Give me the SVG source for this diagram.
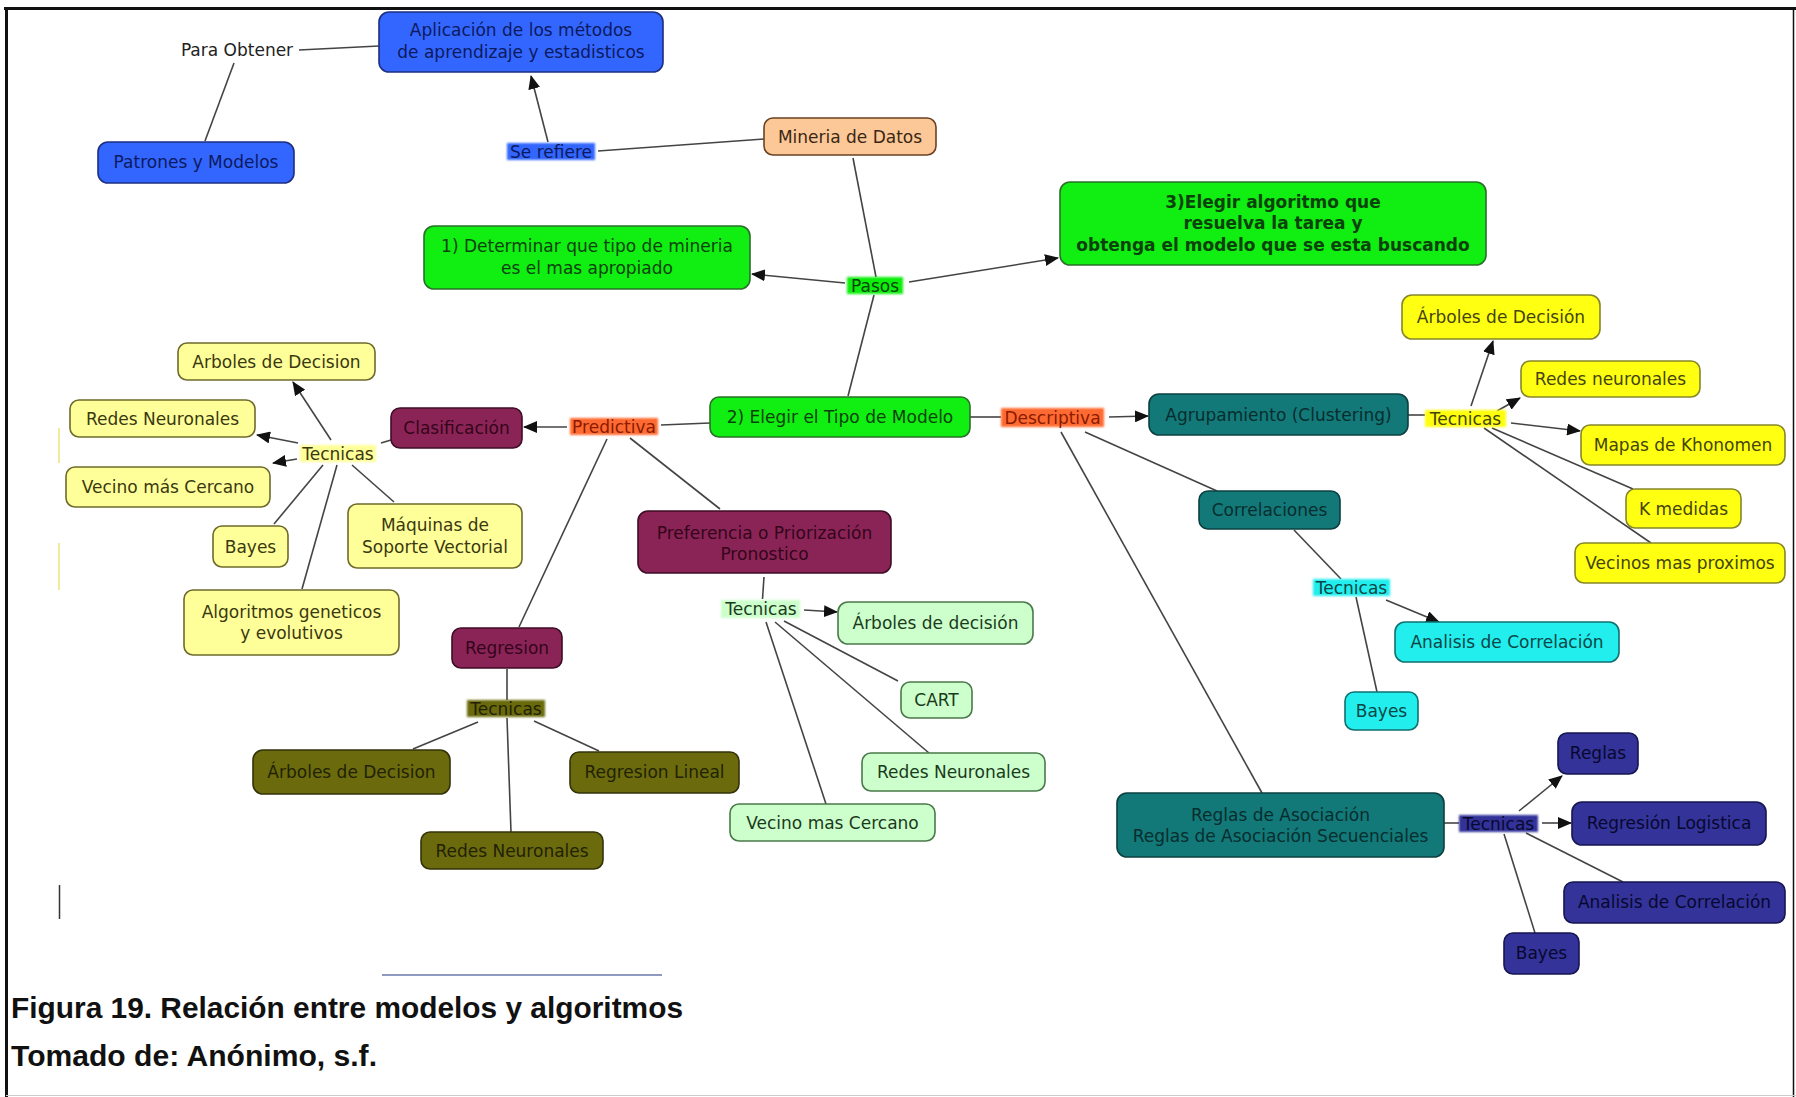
<svg xmlns="http://www.w3.org/2000/svg" width="1796" height="1097" viewBox="0 0 1796 1097">
  <defs>
    <style>
      text { font-family: "DejaVu Sans", Verdana, sans-serif; font-size: 17px; text-anchor: middle; }
      .n rect { stroke-width: 1.6; }
      .blue rect { fill: #3366ff; stroke: #1c2f80; } .blue text { fill: #0c1a60; }
      .peach rect { fill: #fcc898; stroke: #6a4222; } .peach text { fill: #3a2614; }
      .green rect { fill: #11ee11; stroke: #2a702a; } .green text { fill: #0b420b; }
      .paley rect { fill: #ffff99; stroke: #6e6a2c; } .paley text { fill: #3a3810; }
      .maroon rect { fill: #8b2456; stroke: #3e0d26; } .maroon text { fill: #33041b; }
      .mint rect { fill: #ccffcc; stroke: #4a7a4a; } .mint text { fill: #1b3a1b; }
      .olive rect { fill: #6b6b0e; stroke: #33330a; } .olive text { fill: #222202; }
      .teal rect { fill: #137878; stroke: #0c4040; } .teal text { fill: #062e2e; }
      .yellow rect { fill: #ffff11; stroke: #86862a; } .yellow text { fill: #44440e; }
      .cyan rect { fill: #22eeee; stroke: #117070; } .cyan text { fill: #0b4646; }
      .navy rect { fill: #333399; stroke: #161650; } .navy text { fill: #08082e; }
      .lbl rect { filter: url(#soft); stroke: none; }
      .plain text { fill: #222; }
      #connectors line { stroke: #444; stroke-width: 1.6; }
      #connectors line.arr { marker-end: url(#head); }
      .cap { font-family: "Liberation Sans", Arial, sans-serif; font-weight: bold; font-size: 29px; text-anchor: start; fill: #111; }
    </style>
    <filter id="soft" x="-20%" y="-40%" width="140%" height="180%">
      <feGaussianBlur stdDeviation="1.2"/>
    </filter>
    <marker id="head" markerUnits="userSpaceOnUse" markerWidth="14" markerHeight="12" refX="13" refY="6" orient="auto">
      <path d="M0,0 L14,6 L0,12 z" fill="#111"/>
    </marker>
  </defs>

  <rect width="1796" height="1097" fill="#fff"/>

  <!-- frame -->
  <g id="frame">
    <line x1="4" y1="8.5" x2="1796" y2="8.5" stroke="#111" stroke-width="3"/>
    <line x1="6.5" y1="7" x2="6.5" y2="1097" stroke="#111" stroke-width="3"/>
    <line x1="1793.5" y1="7" x2="1793.5" y2="1097" stroke="#111" stroke-width="1.5"/>
    <line x1="6" y1="1095.5" x2="1796" y2="1095.5" stroke="#ccc" stroke-width="1.2"/>
    <line x1="59" y1="428" x2="59" y2="463" stroke="#eee070" stroke-width="1.4"/>
    <line x1="59" y1="543" x2="59" y2="590" stroke="#eee070" stroke-width="1.4"/>
    <line x1="59.5" y1="885" x2="59.5" y2="919" stroke="#333" stroke-width="1.5"/>
    <line x1="382" y1="975" x2="662" y2="975" stroke="#6a7aa8" stroke-width="1.5"/>
  </g>

  <!-- connectors -->
  <g id="connectors">
    <line x1="299" y1="50" x2="379" y2="46"/>
    <line x1="234" y1="63" x2="205" y2="141"/>
    <line class="arr" x1="548" y1="142" x2="531" y2="76"/>
    <line x1="764" y1="139" x2="598" y2="151"/>
    <line x1="853" y1="158" x2="876" y2="277"/>
    <line class="arr" x1="845" y1="283" x2="752" y2="274"/>
    <line class="arr" x1="909" y1="282" x2="1058" y2="258"/>
    <line x1="874" y1="295" x2="848" y2="396"/>
    <line x1="710" y1="423" x2="661" y2="425"/>
    <line class="arr" x1="567" y1="427" x2="524" y2="427"/>
    <line x1="381" y1="443" x2="391" y2="440"/>
    <line class="arr" x1="331" y1="440" x2="293" y2="382"/>
    <line class="arr" x1="298" y1="443" x2="257" y2="435"/>
    <line class="arr" x1="297" y1="459" x2="273" y2="463"/>
    <line x1="323" y1="465" x2="274" y2="524"/>
    <line x1="337" y1="465" x2="302" y2="589"/>
    <line x1="352" y1="465" x2="394" y2="502"/>
    <line x1="607" y1="439" x2="519" y2="627"/>
    <line x1="630" y1="438" x2="720" y2="509"/>
    <line x1="507" y1="669" x2="507" y2="700"/>
    <line x1="478" y1="722" x2="413" y2="749"/>
    <line x1="534" y1="721" x2="599" y2="751"/>
    <line x1="507" y1="718" x2="511" y2="832"/>
    <line x1="764" y1="577" x2="762.5" y2="599"/>
    <line class="arr" x1="804" y1="610" x2="837" y2="612"/>
    <line x1="784" y1="621" x2="898" y2="681"/>
    <line x1="775" y1="622" x2="929" y2="753"/>
    <line x1="766" y1="622" x2="826" y2="804"/>
    <line x1="970" y1="417" x2="1001" y2="417"/>
    <line class="arr" x1="1109" y1="417" x2="1148" y2="416"/>
    <line x1="1408" y1="415" x2="1425" y2="415"/>
    <line class="arr" x1="1471" y1="406" x2="1493" y2="341"/>
    <line class="arr" x1="1497" y1="411" x2="1520" y2="398"/>
    <line class="arr" x1="1511" y1="423" x2="1580" y2="431"/>
    <line x1="1492" y1="428" x2="1633" y2="489"/>
    <line x1="1484" y1="428" x2="1651" y2="543"/>
    <line x1="1085" y1="432" x2="1217" y2="491"/>
    <line x1="1294" y1="530" x2="1341" y2="579"/>
    <line class="arr" x1="1386" y1="600" x2="1439" y2="622"/>
    <line x1="1356" y1="597" x2="1377" y2="692"/>
    <line x1="1061" y1="432" x2="1262" y2="793"/>
    <line x1="1444" y1="823" x2="1459" y2="823"/>
    <line class="arr" x1="1519" y1="811" x2="1562" y2="776"/>
    <line class="arr" x1="1542" y1="823" x2="1571" y2="823"/>
    <line x1="1526" y1="833" x2="1623" y2="882"/>
    <line x1="1504" y1="834" x2="1535" y2="933"/>
  </g>

  <!-- linking phrases -->
  <g id="l-para-obtener" class="plain"><text x="237" y="56">Para Obtener</text></g>
  <g id="l-se-refiere" class="lbl blue"><rect x="507" y="143" width="88" height="17"/><text x="551" y="157.5">Se refiere</text></g>
  <g id="l-pasos" class="lbl green"><rect x="847" y="277" width="56" height="17"/><text x="875" y="291.5">Pasos</text></g>
  <g id="l-predictiva" class="lbl"><rect x="570" y="418" width="88" height="17" fill="#ff6a30"/><text x="614" y="432.5" fill="#8a1a00">Predictiva</text></g>
  <g id="l-descriptiva" class="lbl"><rect x="1001" y="408" width="103" height="19" fill="#ff6a30"/><text x="1052.5" y="423.5" fill="#8a1a00">Descriptiva</text></g>
  <g id="l-tec-clas" class="lbl paley"><rect x="300" y="445" width="76" height="17" fill="#ffffa8"/><text x="338" y="459.5">Tecnicas</text></g>
  <g id="l-tec-pref" class="lbl mint"><rect x="721" y="600" width="79" height="18" fill="#ddffdd"/><text x="761" y="615">Tecnicas</text></g>
  <g id="l-tec-reg" class="lbl olive"><rect x="467" y="700" width="78" height="17"/><text x="506" y="714.5">Tecnicas</text></g>
  <g id="l-tec-agr" class="lbl yellow"><rect x="1425" y="410" width="81" height="17" fill="#ffff44"/><text x="1465.5" y="424.5">Tecnicas</text></g>
  <g id="l-tec-corr" class="lbl cyan"><rect x="1313" y="579" width="77" height="17"/><text x="1351.5" y="593.5">Tecnicas</text></g>
  <g id="l-tec-reglas" class="lbl navy"><rect x="1459" y="815" width="79" height="17"/><text x="1498.5" y="829.5">Tecnicas</text></g>

  <!-- concepts -->
  <g id="aplicacion" class="n blue"><rect x="379" y="12" width="284" height="60" rx="10"/><text x="521" y="36">Aplicación de los métodos</text><text x="521" y="58">de aprendizaje y estadisticos</text></g>
  <g id="patrones" class="n blue"><rect x="98" y="142" width="196" height="41" rx="10"/><text x="196" y="168">Patrones y Modelos</text></g>
  <g id="mineria" class="n peach"><rect x="764" y="118" width="172" height="37" rx="9"/><text x="850" y="142.5">Mineria de Datos</text></g>
  <g id="paso1" class="n green"><rect x="424" y="226" width="326" height="63" rx="10"/><text x="587" y="252">1) Determinar que tipo de mineria</text><text x="587" y="274">es el mas apropiado</text></g>
  <g id="paso3" class="n green"><rect x="1060" y="182" width="426" height="83" rx="10"/><text x="1273" y="207.5" font-weight="bold">3)Elegir algoritmo que</text><text x="1273" y="229" font-weight="bold">resuelva la tarea y</text><text x="1273" y="250.5" font-weight="bold">obtenga el modelo que se esta buscando</text></g>
  <g id="paso2" class="n green"><rect x="710" y="397" width="260" height="40" rx="9"/><text x="840" y="423">2) Elegir el Tipo de Modelo</text></g>

  <g id="clasificacion" class="n maroon"><rect x="391" y="408" width="131" height="40" rx="9"/><text x="456.5" y="434">Clasificación</text></g>
  <g id="arboles-clas" class="n paley"><rect x="178" y="343" width="197" height="37" rx="9"/><text x="276.5" y="367.5">Arboles de Decision</text></g>
  <g id="redes-clas" class="n paley"><rect x="70" y="400" width="185" height="37" rx="9"/><text x="162.5" y="424.5">Redes Neuronales</text></g>
  <g id="vecino-clas" class="n paley"><rect x="66" y="467" width="204" height="40" rx="9"/><text x="168" y="493">Vecino más Cercano</text></g>
  <g id="bayes-clas" class="n paley"><rect x="213" y="526" width="75" height="41" rx="9"/><text x="250.5" y="552.5">Bayes</text></g>
  <g id="maquinas" class="n paley"><rect x="348" y="504" width="174" height="64" rx="9"/><text x="435" y="531">Máquinas de</text><text x="435" y="553">Soporte Vectorial</text></g>
  <g id="algoritmos" class="n paley"><rect x="184" y="590" width="215" height="65" rx="9"/><text x="291.5" y="618">Algoritmos geneticos</text><text x="291.5" y="639">y evolutivos</text></g>

  <g id="regresion" class="n maroon"><rect x="452" y="628" width="110" height="40" rx="9"/><text x="507" y="654">Regresion</text></g>
  <g id="arboles-reg" class="n olive"><rect x="253" y="750" width="197" height="44" rx="10"/><text x="351.5" y="778">Árboles de Decision</text></g>
  <g id="regresion-lineal" class="n olive"><rect x="570" y="752" width="169" height="41" rx="9"/><text x="654.5" y="778">Regresion Lineal</text></g>
  <g id="redes-reg" class="n olive"><rect x="421" y="832" width="182" height="37" rx="9"/><text x="512" y="856.5">Redes Neuronales</text></g>

  <g id="preferencia" class="n maroon"><rect x="638" y="511" width="253" height="62" rx="10"/><text x="764.5" y="539">Preferencia o Priorización</text><text x="764.5" y="560">Pronostico</text></g>
  <g id="arboles-pref" class="n mint"><rect x="838" y="602" width="195" height="42" rx="10"/><text x="935.5" y="629">Árboles de decisión</text></g>
  <g id="cart" class="n mint"><rect x="901" y="682" width="71" height="36" rx="9"/><text x="936.5" y="706">CART</text></g>
  <g id="redes-pref" class="n mint"><rect x="862" y="753" width="183" height="38" rx="9"/><text x="953.5" y="778">Redes Neuronales</text></g>
  <g id="vecino-pref" class="n mint"><rect x="730" y="804" width="205" height="37" rx="9"/><text x="832.5" y="828.5">Vecino mas Cercano</text></g>

  <g id="agrupamiento" class="n teal"><rect x="1149" y="394" width="259" height="41" rx="10"/><text x="1278.5" y="420.5">Agrupamiento (Clustering)</text></g>
  <g id="arboles-desc" class="n yellow"><rect x="1402" y="295" width="198" height="44" rx="10"/><text x="1501" y="323">Árboles de Decisión</text></g>
  <g id="redes-desc" class="n yellow"><rect x="1521" y="361" width="179" height="36" rx="9"/><text x="1610.5" y="385">Redes neuronales</text></g>
  <g id="mapas" class="n yellow"><rect x="1581" y="425" width="204" height="40" rx="9"/><text x="1683" y="451">Mapas de Khonomen</text></g>
  <g id="kmedidas" class="n yellow"><rect x="1626" y="489" width="115" height="39" rx="9"/><text x="1683.5" y="514.5">K medidas</text></g>
  <g id="vecinos-desc" class="n yellow"><rect x="1575" y="543" width="210" height="40" rx="9"/><text x="1680" y="569">Vecinos mas proximos</text></g>

  <g id="correlaciones" class="n teal"><rect x="1199" y="491" width="141" height="38" rx="9"/><text x="1269.5" y="516">Correlaciones</text></g>
  <g id="analisis-cyan" class="n cyan"><rect x="1395" y="622" width="224" height="40" rx="10"/><text x="1507" y="648">Analisis de Correlación</text></g>
  <g id="bayes-cyan" class="n cyan"><rect x="1345" y="692" width="73" height="38" rx="9"/><text x="1381.5" y="717">Bayes</text></g>

  <g id="reglas-asoc" class="n teal"><rect x="1117" y="793" width="327" height="64" rx="10"/><text x="1280.5" y="821">Reglas de Asociación</text><text x="1280.5" y="842">Reglas de Asociación Secuenciales</text></g>
  <g id="reglas" class="n navy"><rect x="1558" y="733" width="80" height="41" rx="9"/><text x="1598" y="759">Reglas</text></g>
  <g id="regresion-log" class="n navy"><rect x="1572" y="802" width="194" height="43" rx="10"/><text x="1669" y="829">Regresión Logistica</text></g>
  <g id="analisis-navy" class="n navy"><rect x="1564" y="882" width="221" height="41" rx="9"/><text x="1674.5" y="908">Analisis de Correlación</text></g>
  <g id="bayes-navy" class="n navy"><rect x="1504" y="933" width="75" height="41" rx="9"/><text x="1541.5" y="959">Bayes</text></g>

  <!-- caption -->
  <g id="caption">
    <text class="cap" x="11" y="1018" textLength="672" lengthAdjust="spacingAndGlyphs">Figura 19. Relación entre modelos y algoritmos</text>
    <text class="cap" x="11" y="1066" textLength="366" lengthAdjust="spacingAndGlyphs">Tomado de: Anónimo, s.f.</text>
  </g>
</svg>
